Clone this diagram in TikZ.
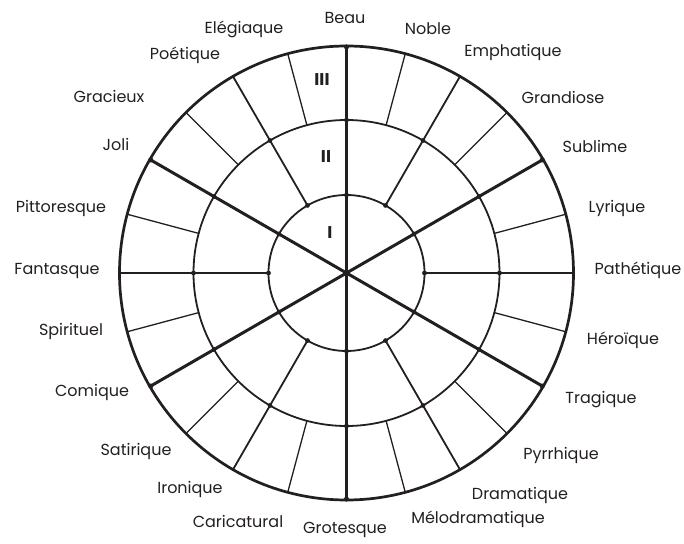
\documentclass[tikz,border=0pt]{standalone}
\usepackage{fontspec}
\setmainfont{Poppins}
\definecolor{encre}{HTML}{231F20}
\tikzset{
  mot/.style={font=\fontsize{16}{19}\selectfont, text=encre, inner sep=0pt,
    text height=0.75em, text depth=0.25em},
  chiffre/.style={font=\fontsize{17}{20}\selectfont\bfseries, text=encre, inner sep=0pt},
}
\begin{document}
\begin{tikzpicture}[x=1pt, y=1pt, line cap=round, draw=encre]
    \useasboundingbox (-346.5,-270) rectangle (337.5,273);

    % cercles
    \draw[line width=2.7pt] (0,0) circle (227);
    \draw[line width=1.8pt] (0,0) circle (153);
    \draw[line width=1.8pt] (0,0) circle (78);

    % rayons fins de la couronne extérieure
    \foreach \a in {15,45,...,345} {
        \draw[line width=1.3pt] (\a:153) -- (\a:227);
    }

    % rayons moyens
    \foreach \a in {0,60,...,300} {
        \draw[line width=1.8pt] (\a:78) -- (\a:227);
    }

    % rayons épais
    \foreach \a in {30,90,...,330} {
        \draw[line width=3pt] (0,0) -- (\a:227);
        \fill[encre] (\a:226) circle (2.5);
    }

    % points aux croisements
    \foreach \a in {0,30,...,330} {
        \fill[encre] (\a:78) circle (2.4);
        \fill[encre] (\a:153) circle (2.4);
    }
    \fill[encre] (0,0) circle (3.4);

    % numéros des couronnes
    \node[chiffre] (un)    at (-16.5,40)  {I};
    \node[chiffre] (deux)  at (-20.5,116) {II};
    \node[chiffre] (trois) at (-24.5,193) {III};

    % caractères
    \node[mot] (beau)      at (-1.5,252)    {Beau};
    \node[mot] (noble)     at (81.5,241)    {Noble};
    \node[mot] (emph)      at (166.5,219)   {Emphatique};
    \node[mot] (grand)     at (216.5,172)   {Grandiose};
    \node[mot] (sublime)   at (248.5,123)   {Sublime};
    \node[mot] (lyrique)   at (270.5,63)    {Lyrique};
    \node[mot] (pathet)    at (291.5,1)     {Pathétique};
    \node[mot] (heroique)  at (276.5,-69)   {Héroïque};
    \node[mot] (tragique)  at (254.5,-128)  {Tragique};
    \node[mot] (pyrrh)     at (214.5,-184)  {Pyrrhique};
    \node[mot] (drama)     at (173.5,-224)  {Dramatique};
    \node[mot] (melo)      at (131.5,-248)  {Mélodramatique};
    \node[mot] (grotesque) at (-1.5,-258)   {Grotesque};
    \node[mot] (carica)    at (-108.5,-252) {Caricatural};
    \node[mot] (ironique)  at (-156.5,-218) {Ironique};
    \node[mot] (satirique) at (-210.5,-180) {Satirique};
    \node[mot] (comique)   at (-254.5,-121) {Comique};
    \node[mot] (spirit)    at (-275.5,-60)  {Spirituel};
    \node[mot] (fantasque) at (-289.5,1)    {Fantasque};
    \node[mot] (pittor)    at (-285.5,63)   {Pittoresque};
    \node[mot] (joli)      at (-230.5,125)  {Joli};
    \node[mot] (gracieux)  at (-237.5,173)  {Gracieux};
    \node[mot] (poetique)  at (-161.5,216)  {Poétique};
    \node[mot] (elegiaque) at (-102.5,242)  {Elégiaque};
\end{tikzpicture}
\end{document}
